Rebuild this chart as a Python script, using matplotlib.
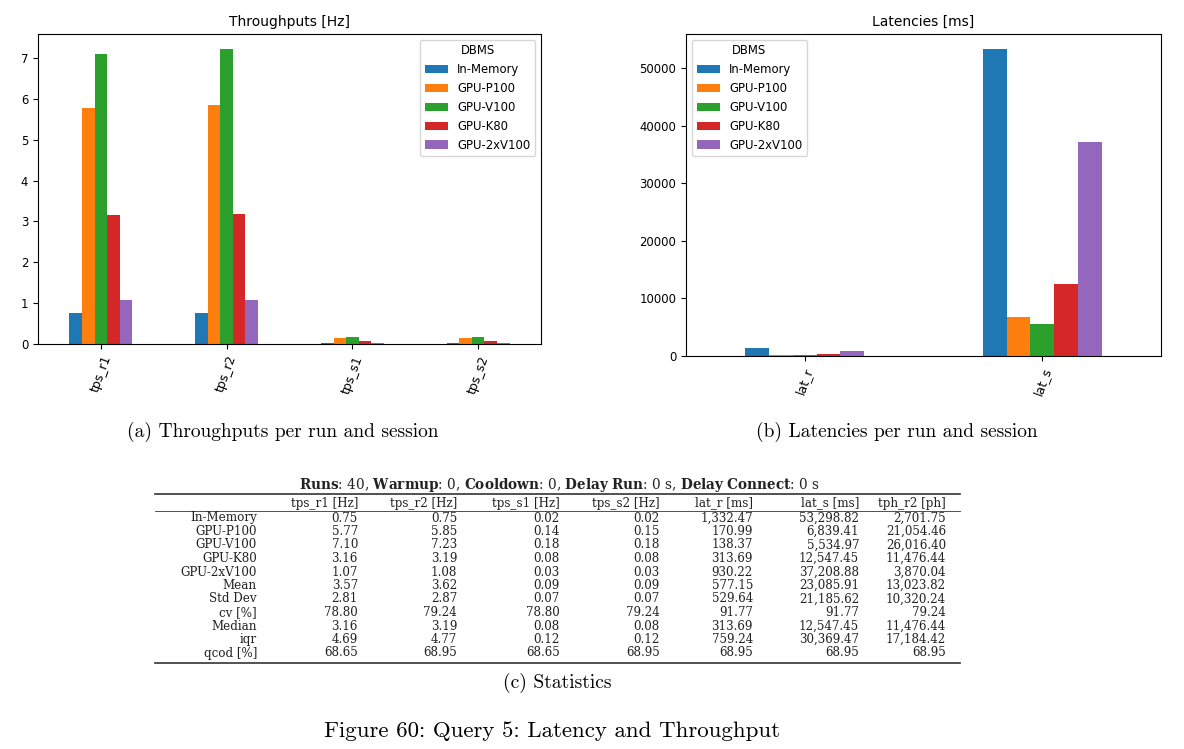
import matplotlib
matplotlib.use("Agg")
import matplotlib.pyplot as plt
import numpy as np

plt.rcParams['mathtext.fontset'] = 'dejavuserif'

dbms = ["In-Memory", "GPU-P100", "GPU-V100", "GPU-K80", "GPU-2xV100"]
colors = ["#1f77b4", "#ff7f0e", "#2ca02c", "#d62728", "#9467bd"]

tps_cats = ["tps_r1", "tps_r2", "tps_s1", "tps_s2"]
tps_r1 = [0.75, 5.77, 7.10, 3.16, 1.07]
tps_r2 = [0.75, 5.85, 7.23, 3.19, 1.08]
tps_s1 = [0.02, 0.14, 0.18, 0.08, 0.03]
tps_s2 = [0.02, 0.15, 0.18, 0.08, 0.03]

lat_cats = ["lat_r", "lat_s"]
lat_r = [1332.47, 170.99, 138.37, 313.69, 930.22]
lat_s = [53298.82, 6839.41, 5534.97, 12547.45, 37208.88]

tph_r2 = [2701.75, 21054.46, 26016.40, 11476.44, 3870.04]

table_cols = ["tps_r1 [Hz]", "tps_r2 [Hz]", "tps_s1 [Hz]", "tps_s2 [Hz]",
              "lat_r [ms]", "lat_s [ms]", "tph_r2 [ph]"]
stat_rows = ["Mean", "Std Dev", "cv [%]", "Median", "iqr", "qcod [%]"]
stat_mean = [3.57, 3.62, 0.09, 0.09, 577.15, 23085.91, 13023.82]
stat_std = [2.81, 2.87, 0.07, 0.07, 529.64, 21185.62, 10320.24]
stat_cv = [78.80, 79.24, 78.80, 79.24, 91.77, 91.77, 79.24]
stat_median = [3.16, 3.19, 0.08, 0.08, 313.69, 12547.45, 11476.44]
stat_iqr = [4.69, 4.77, 0.12, 0.12, 759.24, 30369.47, 17184.42]
stat_qcod = [68.65, 68.95, 68.65, 68.95, 68.95, 68.95, 68.95]

W, H = 1184, 749
fig = plt.figure(figsize=(W / 100, H / 100), dpi=100)


def ax_rect(x0, y0, x1, y1):
    return [x0 / W, 1 - y1 / H, (x1 - x0) / W, (y1 - y0) / H]


def grouped(ax, cats, series, title, loc):
    data = np.array(series)  # shape (ncat, ndbms)
    n = len(dbms)
    width = 0.5 / n
    x = np.arange(len(cats))
    for i, name in enumerate(dbms):
        ax.bar(x - 0.25 + width * (i + 0.5), data[:, i], width, color=colors[i], label=name)
    ax.set_xlim(-0.5, len(cats) - 0.5)
    ax.set_ylim(0, data.max() * 1.05)
    ax.set_xticks(x)
    ax.set_xticklabels(cats, rotation=70, fontsize=9)
    ax.tick_params(axis='y', labelsize=8.4)
    for s in ax.spines.values():
        s.set_linewidth(0.8)
    ax.set_title(title, fontsize=10)
    ax.legend(title="DBMS", loc=loc, fontsize=8.4, title_fontsize=8.4)


ax1 = fig.add_axes(ax_rect(38, 34, 541, 344))
grouped(ax1, tps_cats, [tps_r1, tps_r2, tps_s1, tps_s2], "Throughputs [Hz]", "upper right")

ax2 = fig.add_axes(ax_rect(686, 34, 1161, 356))
grouped(ax2, lat_cats, [lat_r, lat_s], "Latencies [ms]", "upper left")

cm_serif = ['cmr10', 'DejaVu Serif']
tab_serif = ['DejaVu Serif']


def ftext(x, y, s, size, ha='center', family=cm_serif, color='black'):
    fig.text(x / W, 1 - y / H, s, fontsize=size, ha=ha, va='center', family=family, color=color)


ftext(283, 432, "(a) Throughputs per run and session", 14)
ftext(897, 432, "(b) Latencies per run and session", 14)

title = (r"$\mathbf{Runs}$: 40, $\mathbf{Warmup}$: 0, $\mathbf{Cooldown}$: 0, "
         r"$\mathbf{Delay\ Run}$: 0 s, $\mathbf{Delay\ Connect}$: 0 s")
tsize = 8.6
ftext(560, 485, title, 9.8, family=tab_serif, color='#222222')


def hline(y, lw):
    fig.add_artist(plt.Line2D([155 / W, 960 / W], [1 - y / H, 1 - y / H], color='#333333', lw=lw))


hline(494, 1.2)
hline(511, 0.6)
hline(663, 1.2)

col_right = [358, 457, 560, 660, 753, 859, 946]
label_right = 257
for c, cx in zip(table_cols, col_right):
    ftext(cx, 503, c, tsize, ha='right', family=tab_serif, color='#222222')

data_rows = [(n, [tps_r1[i], tps_r2[i], tps_s1[i], tps_s2[i], lat_r[i], lat_s[i], tph_r2[i]])
             for i, n in enumerate(dbms)]
stats = [stat_mean, stat_std, stat_cv, stat_median, stat_iqr, stat_qcod]
data_rows += list(zip(stat_rows, stats))

y0 = 518
dy = (653 - 518) / 10
for r, (name, vals) in enumerate(data_rows):
    y = y0 + r * dy
    ftext(label_right, y, name, tsize, ha='right', family=tab_serif, color='#222222')
    for v, cx in zip(vals, col_right):
        ftext(cx, y, f"{v:,.2f}", tsize, ha='right', family=tab_serif, color='#222222')

ftext(557, 683, "(c) Statistics", 14)
ftext(552, 731, "Figure 60: Query 5: Latency and Throughput", 16.5)

fig.savefig("out.png", dpi=100)
